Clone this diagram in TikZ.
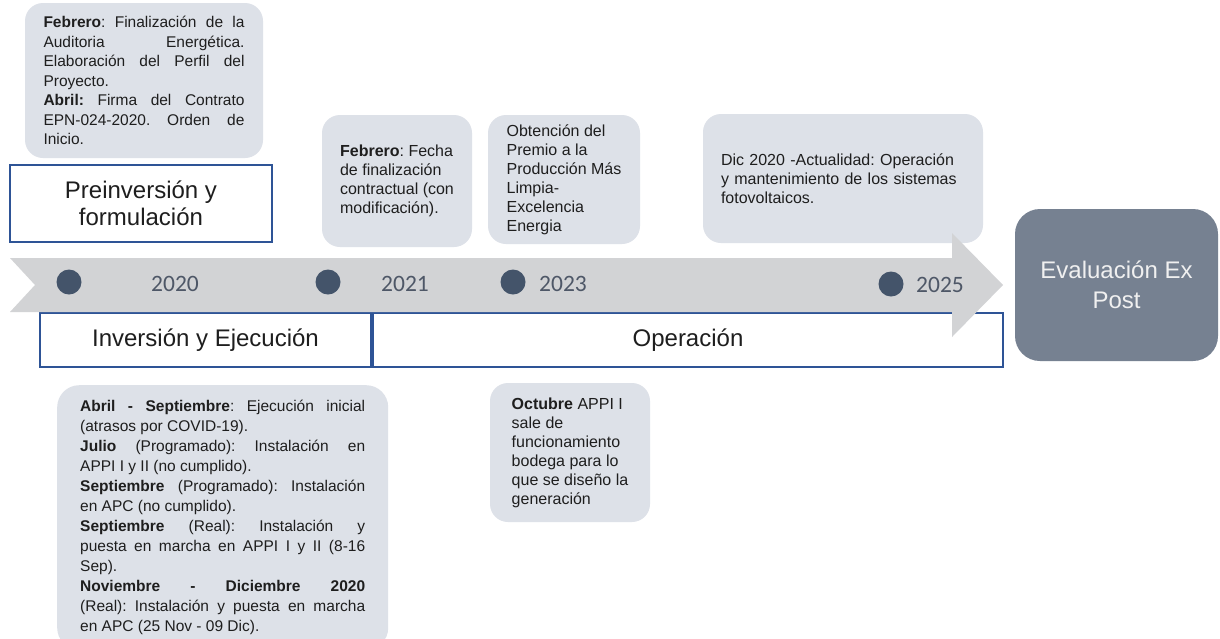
\documentclass[tikz,border=0pt]{standalone}
\usepackage{fontspec}
\setmainfont{Liberation Sans}
\newfontfamily\yearfont{Carlito}
\frenchspacing
\definecolor{bub}{HTML}{DDE1E8}
\definecolor{bandgray}{HTML}{D2D3D5}
\definecolor{dotcol}{HTML}{44546A}
\definecolor{yearcol}{HTML}{4E5767}
\definecolor{boxblue}{HTML}{2E5496}
\definecolor{evalcol}{HTML}{768191}
\definecolor{txt}{HTML}{1E1E1E}
\newcommand{\jsetup}{\setlength{\parindent}{0pt}\frenchspacing\hyphenpenalty=10000\relax\tolerance=10000\relax\hbadness=10000\relax}
\begin{document}
\begin{tikzpicture}[x=1pt,y=-1pt,
  bubble/.style={fill=bub, draw=none, rounded corners=18pt, text=txt, inner ysep=0pt},
  small/.style={font=\fontsize{16}{19}\selectfont\frenchspacing},
  just/.style={align=justify, font=\fontsize{15.5}{19.5}\selectfont},
  phase/.style={draw=boxblue, line width=2pt, text=txt, font=\fontsize{24}{27}\selectfont, align=center, inner sep=0pt},
  dot/.style={circle, fill=dotcol, minimum size=25pt, inner sep=0pt},
  yearlbl/.style={text=yearcol, font=\yearfont\fontsize{23.5}{26}\selectfont, inner sep=0pt}
]
\useasboundingbox (0,0) rectangle (1220,638);
\clip (0,0) rectangle (1220,638);
\fill[white] (0,0) rectangle (1220,638);

% bubbles
\node[bubble, just, minimum width=238pt, minimum height=155pt, inner xsep=18.5pt, text width=201pt] (b2020) at (144,80.5)
{\jsetup\textbf{Febrero}: Finalización de la\linebreak Auditoria Energética.\linebreak Elaboración del Perfil del\linebreak Proyecto.\par
\textbf{Abril:} Firma del Contrato\linebreak EPN-024-2020. Orden de\linebreak Inicio.};

\node[bubble, small, align=left, minimum width=150pt, minimum height=132pt, inner xsep=0pt] (b2021) at (397,181)
{\textbf{Febrero}: Fecha\\ de finalización\\ contractual (con\\ modificación).};

\node[bubble, small, align=left, minimum width=152pt, minimum height=129pt, inner xsep=0pt] (b2023) at (564,179.5)
{Obtención del\\ Premio a la\\ Producción Más\\ Limpia-\\ Excelencia\\ Energia};

\node[bubble, small, align=left, minimum width=280pt, minimum height=129pt, inner xsep=18pt, text width=244pt] (bdic) at (843,178.5)
{Dic 2020 -Actualidad: Operación\\ y mantenimiento de los sistemas\\ fotovoltaicos.};

\node[bubble, small, align=left, minimum width=160pt, minimum height=139pt, inner xsep=0pt] (boct) at (570,452.5)
{\textbf{Octubre} APPI I\\ sale de\\ funcionamiento\\ bodega para lo\\ que se diseño la\\ generación};

\node[bubble, just, font=\fontsize{15.5}{20}\selectfont, anchor=north west, inner xsep=23pt, inner ysep=15pt, text width=285pt, rounded corners=22pt] (bbot) at (57,385)
{\jsetup\textbf{Abril - Septiembre}: Ejecución inicial\linebreak (atrasos por COVID-19).\par
\textbf{Julio} (Programado): Instalación en\linebreak APPI I y II (no cumplido).\par
\textbf{Septiembre} (Programado): Instalación\linebreak en APC (no cumplido).\par
\textbf{Septiembre} (Real): Instalación y\linebreak puesta en marcha en APPI I y II (8-16\linebreak Sep).\par
\textbf{Noviembre - Diciembre 2020}\linebreak (Real): Instalación y puesta en marcha\linebreak en APC (25 Nov - 09 Dic).};

% phase boxes
\node[phase, minimum width=262pt, minimum height=77pt] (pre) at (141,203.5) {Preinversión y\\ formulación};
\node[phase, minimum width=331pt, minimum height=54pt] (inv) at (205.5,340) {Inversión y Ejecución};
\node[phase, minimum width=630pt, minimum height=54pt] (ope) at (688,340) {Operación};

\node[fill=evalcol, rounded corners=25pt, minimum width=203pt, minimum height=152pt, text=white!94!black,
  font=\fontsize{24}{30}\selectfont, align=center, inner sep=0pt] (eval) at (1116.5,285) {Evaluación Ex\\ Post};

% timeline arrow
\fill[bandgray] (10,258) -- (952,258) -- (952,233) -- (1003,285) -- (952,337) -- (952,312) -- (10,312) -- (35,285) -- cycle;

% dots and years
\node[dot] (c2020) at (69,282) {};
\node[dot] (c2021) at (328,282) {};
\node[dot] (c2023) at (513,282) {};
\node[dot] (c2025) at (891,284) {};
\node[yearlbl] (y2020) at (175,284) {2020};
\node[yearlbl] (y2021) at (405,284) {2021};
\node[yearlbl] (y2023) at (563,284) {2023};
\node[yearlbl] (y2025) at (940,285) {2025};
\end{tikzpicture}
\end{document}
